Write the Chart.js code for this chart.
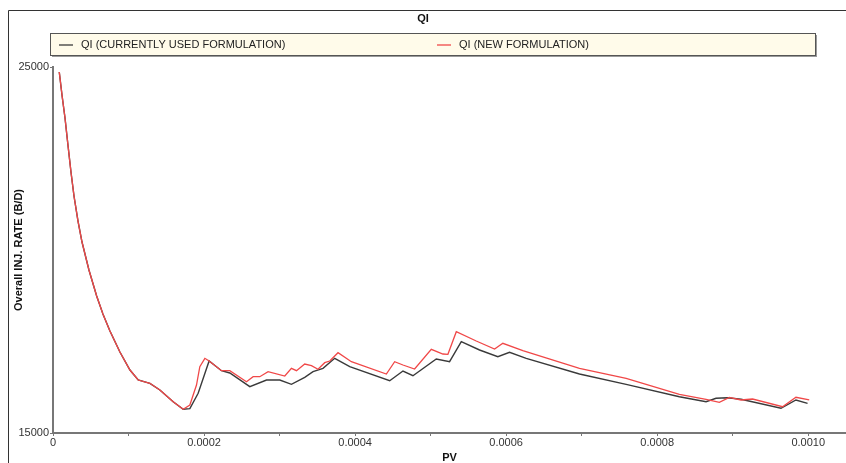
<!DOCTYPE html>
<html>
<head>
<meta charset="utf-8">
<script src="https://cdn.jsdelivr.net/npm/chart.js@4/dist/chart.umd.min.js"></script>
<style>
  html, body { margin: 0; padding: 0; background: #fff; }
  #wrap { width: 846px; height: 463px; }
</style>
</head>
<body>
<div id="wrap"><canvas id="qiChart" width="846" height="463"></canvas></div>
<script>
// Chart text
const chartTitle = 'QI';
const xTitle = 'PV';
const yTitle = 'Overall INJ. RATE (B/D)';

// Axis ticks
const xTicks = [0, 0.0001, 0.0002, 0.0003, 0.0004, 0.0005, 0.0006, 0.0007, 0.0008, 0.0009, 0.0010];
const yTicks = [15000, 25000];

// QI (currently used formulation)
const pvCurrent = [0.0000083, 0.0000119, 0.0000159, 0.0000198, 0.0000238, 0.0000278, 0.0000331, 0.0000384,
  0.0000476, 0.0000578, 0.0000661, 0.0000754, 0.0000886, 0.0001019, 0.0001128, 0.0001283, 0.0001415,
  0.0001591, 0.0001724, 0.0001812, 0.0001922, 0.0002067, 0.0002231, 0.0002341, 0.0002606, 0.0002827,
  0.0003003, 0.0003157, 0.0003333, 0.0003443, 0.0003575, 0.0003730, 0.0003929, 0.0004458, 0.0004634,
  0.0004766, 0.0005075, 0.0005251, 0.0005406, 0.0005648, 0.0005890, 0.0006045, 0.0006266, 0.0006971,
  0.0007589, 0.0008294, 0.0008647, 0.0008779, 0.0008933, 0.0009110, 0.0009639, 0.0009837, 0.0009991];
const qiCurrent = [24863, 24234, 23606, 22868, 22131, 21475, 20792, 20218,
  19453, 18743, 18251, 17787, 17213, 16721, 16448, 16358, 16175,
  15855, 15647, 15664, 16085, 16967, 16702, 16639, 16265, 16448,
  16448, 16330, 16522, 16675, 16768, 17041, 16811, 16429, 16694,
  16565, 17022, 16948, 17494, 17268, 17085, 17205, 17041, 16612,
  16330, 15992, 15855, 15948, 15964, 15921, 15675, 15902, 15811];

// QI (new formulation)
const pvNew = [0.0000083, 0.0000119, 0.0000159, 0.0000198, 0.0000238, 0.0000278, 0.0000331, 0.0000384,
  0.0000476, 0.0000578, 0.0000661, 0.0000754, 0.0000886, 0.0001019, 0.0001128, 0.0001283, 0.0001415,
  0.0001591, 0.0001724, 0.0001812, 0.0001900, 0.0001944, 0.0002011, 0.0002067, 0.0002231, 0.0002341,
  0.0002562, 0.0002650, 0.0002738, 0.0002848, 0.0003069, 0.0003157, 0.0003224, 0.0003333, 0.0003422,
  0.0003509, 0.0003598, 0.0003664, 0.0003774, 0.0003951, 0.0004414, 0.0004524, 0.0004634, 0.0004788,
  0.0005009, 0.0005163, 0.0005229, 0.0005340, 0.0005604, 0.0005847, 0.0005956, 0.0006221, 0.0006971,
  0.0007589, 0.0008294, 0.0008647, 0.0008823, 0.0008955, 0.0009110, 0.0009263, 0.0009660, 0.0009837,
  0.0010013];
const qiNew = [24863, 24234, 23606, 22868, 22131, 21475, 20792, 20218,
  19453, 18743, 18251, 17787, 17213, 16721, 16448, 16358, 16175,
  15855, 15647, 15765, 16311, 16811, 17041, 16967, 16702, 16702,
  16402, 16538, 16538, 16675, 16557, 16768, 16702, 16885, 16839,
  16740, 16921, 16967, 17194, 16948, 16612, 16948, 16858, 16748,
  17287, 17158, 17150, 17768, 17513, 17295, 17451, 17248, 16768,
  16494, 16057, 15921, 15839, 15975, 15902, 15929, 15719, 15975,
  15902];

const toPoints = (xs, ys) => xs.map((x, i) => ({ x: x, y: ys[i] }));

// Frame, title and the boxed legend drawn on the canvas
const framePlugin = {
  id: 'framePlugin',
  afterDraw(chart) {
    const ctx = chart.ctx;
    ctx.save();
    // outer frame
    ctx.strokeStyle = '#333';
    ctx.lineWidth = 1;
    ctx.beginPath();
    ctx.moveTo(8.5, 463);
    ctx.lineTo(8.5, 10.5);
    ctx.lineTo(846, 10.5);
    ctx.stroke();

    // title
    ctx.fillStyle = '#111';
    ctx.font = 'bold 11px "Liberation Sans", Arial, sans-serif';
    ctx.textAlign = 'center';
    ctx.textBaseline = 'middle';
    ctx.fillText(chartTitle, 423, 19);

    // legend box
    ctx.fillStyle = '#9a9a9a';
    ctx.fillRect(52, 35, 765, 22);
    ctx.fillStyle = '#fffbea';
    ctx.fillRect(50.5, 33.5, 765, 22);
    ctx.strokeStyle = '#555';
    ctx.lineWidth = 1;
    ctx.strokeRect(50.5, 33.5, 765, 22);

    const items = [
      { x: 59, ds: chart.data.datasets[0] },
      { x: 437, ds: chart.data.datasets[1] }
    ];
    ctx.font = '11px "Liberation Sans", Arial, sans-serif';
    ctx.textAlign = 'left';
    items.forEach(it => {
      ctx.strokeStyle = it.ds.borderColor;
      ctx.lineWidth = 1.3;
      ctx.beginPath();
      ctx.moveTo(it.x, 45);
      ctx.lineTo(it.x + 14, 45);
      ctx.stroke();
      ctx.fillStyle = '#222';
      ctx.fillText(it.ds.label, it.x + 22, 45);
    });
    ctx.restore();
  }
};

const ctx = document.getElementById('qiChart').getContext('2d');
new Chart(ctx, {
  type: 'line',
  data: {
    datasets: [
      {
        label: 'QI (CURRENTLY USED FORMULATION)',
        data: toPoints(pvCurrent, qiCurrent),
        borderColor: '#3a3a3a',
        borderWidth: 1.4,
        pointRadius: 0,
        tension: 0,
        fill: false,
        order: 2
      },
      {
        label: 'QI (NEW FORMULATION)',
        data: toPoints(pvNew, qiNew),
        borderColor: '#f04848',
        borderWidth: 1.3,
        pointRadius: 0,
        tension: 0,
        fill: false,
        order: 1
      }
    ]
  },
  options: {
    responsive: false,
    animation: false,
    layout: { padding: { top: 67, left: 0, right: 0, bottom: 0 } },
    plugins: {
      legend: { display: false },
      title: { display: false },
      tooltip: { enabled: false }
    },
    scales: {
      x: {
        type: 'linear',
        min: 0,
        max: 0.00105,
        afterBuildTicks: scale => { scale.ticks = xTicks.map(v => ({ value: v })); },
        afterFit: scale => { scale.height = 30; },
        border: { display: true, color: '#777', width: 2 },
        grid: { drawOnChartArea: false, drawTicks: true, tickLength: 3, color: '#777' },
        ticks: {
          autoSkip: false,
          maxRotation: 0,
          padding: 0,
          color: '#333',
          font: { family: '"Liberation Sans", Arial, sans-serif', size: 11 },
          callback: v => {
            const k = Math.round(v * 10000);
            if (k % 2 !== 0) return '';
            return k === 0 ? '0' : v.toFixed(4);
          }
        },
        title: {
          display: true,
          text: xTitle,
          color: '#111',
          padding: 0,
          font: { family: '"Liberation Sans", Arial, sans-serif', size: 11, weight: 'bold', lineHeight: 1 }
        }
      },
      y: {
        type: 'linear',
        min: 15000,
        max: 25000,
        afterBuildTicks: scale => { scale.ticks = yTicks.map(v => ({ value: v })); },
        afterFit: scale => { scale.width = 53; },
        border: { display: true, color: '#777', width: 2 },
        grid: { drawOnChartArea: false, drawTicks: true, tickLength: 3, color: '#777' },
        ticks: {
          padding: 1,
          color: '#333',
          font: { family: '"Liberation Sans", Arial, sans-serif', size: 11 },
          callback: v => String(v)
        },
        title: {
          display: true,
          text: yTitle,
          color: '#111',
          padding: { top: 12, bottom: 0 },
          font: { family: '"Liberation Sans", Arial, sans-serif', size: 11, weight: 'bold' }
        }
      }
    }
  },
  plugins: [framePlugin]
});
</script>
</body>
</html>
